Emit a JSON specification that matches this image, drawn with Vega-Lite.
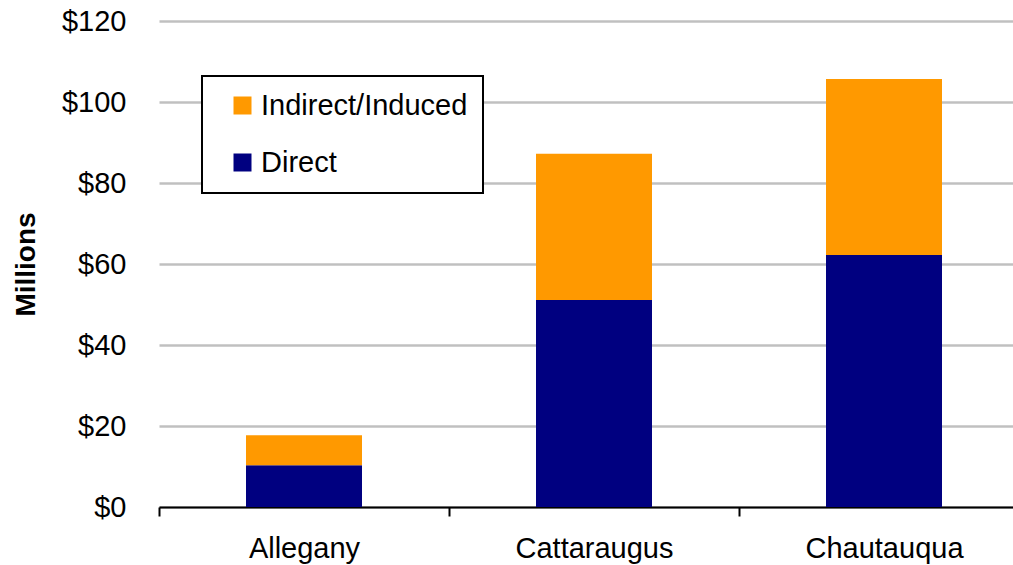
{
  "$schema": "https://vega.github.io/schema/vega-lite/v6.json",
  "width": 854,
  "height": 486,
  "autosize": "none",
  "padding": {"left": 159, "top": 21, "right": 0, "bottom": 58},
  "background": "white",
  "config": {
    "view": {"stroke": null},
    "font": "Liberation Sans"
  },
  "data": {
    "values": [
      {"county": "Allegany", "type": "Direct", "value": 10.3},
      {"county": "Allegany", "type": "Indirect/Induced", "value": 7.4},
      {"county": "Cattaraugus", "type": "Direct", "value": 51.1},
      {"county": "Cattaraugus", "type": "Indirect/Induced", "value": 36.1},
      {"county": "Chautauqua", "type": "Direct", "value": 62.2},
      {"county": "Chautauqua", "type": "Indirect/Induced", "value": 43.5}
    ]
  },
  "mark": {"type": "bar", "clip": false, "width": {"band": 0.4}},
  "encoding": {
    "x": {
      "field": "county",
      "type": "nominal",
      "sort": ["Allegany", "Cattaraugus", "Chautauqua"],
      "scale": {"range": [0, 870], "paddingInner": 0, "paddingOuter": 0},
      "axis": {
        "title": null,
        "labelAngle": 0,
        "labelFont": "Liberation Sans",
        "labelFontSize": 29,
        "labelColor": "black",
        "labelPadding": 18,
        "domainColor": "black",
        "domainWidth": 2,
        "tickColor": "black",
        "tickWidth": 2,
        "tickSize": 9,
        "tickBand": "extent",
        "grid": false
      }
    },
    "y": {
      "field": "value",
      "type": "quantitative",
      "aggregate": "sum",
      "stack": "zero",
      "scale": {"domain": [0, 120], "nice": false},
      "axis": {
        "title": "Millions",
        "titleFont": "Liberation Sans",
        "titleFontSize": 28,
        "titleFontWeight": "bold",
        "titleColor": "black",
        "titlePadding": 21,
        "values": [0, 20, 40, 60, 80, 100, 120],
        "labelExpr": "'$' + datum.value",
        "labelFont": "Liberation Sans",
        "labelFontSize": 29,
        "labelColor": "black",
        "labelPadding": 33,
        "ticks": false,
        "domain": false,
        "grid": true,
        "gridColor": "#c0c0c0",
        "gridWidth": 2.5
      }
    },
    "color": {
      "field": "type",
      "type": "nominal",
      "scale": {"domain": ["Indirect/Induced", "Direct"], "range": ["#FF9900", "#000080"]},
      "legend": {
        "title": null,
        "orient": "none",
        "legendX": 43,
        "legendY": 55,
        "direction": "vertical",
        "fillColor": "white",
        "strokeColor": "black",
        "padding": 15,
        "symbolOffset": 11,
        "symbolType": "square",
        "symbolSize": 324,
        "symbolStrokeWidth": 0,
        "labelFont": "Liberation Sans",
        "labelFontSize": 29,
        "labelColor": "black",
        "labelOffset": 4,
        "rowPadding": 27,
        "labelLimit": 400,
        "encode": {"legend": {"update": {"strokeWidth": {"value": 2}}}}
      }
    },
    "order": {"field": "type", "sort": "ascending"}
  }
}
